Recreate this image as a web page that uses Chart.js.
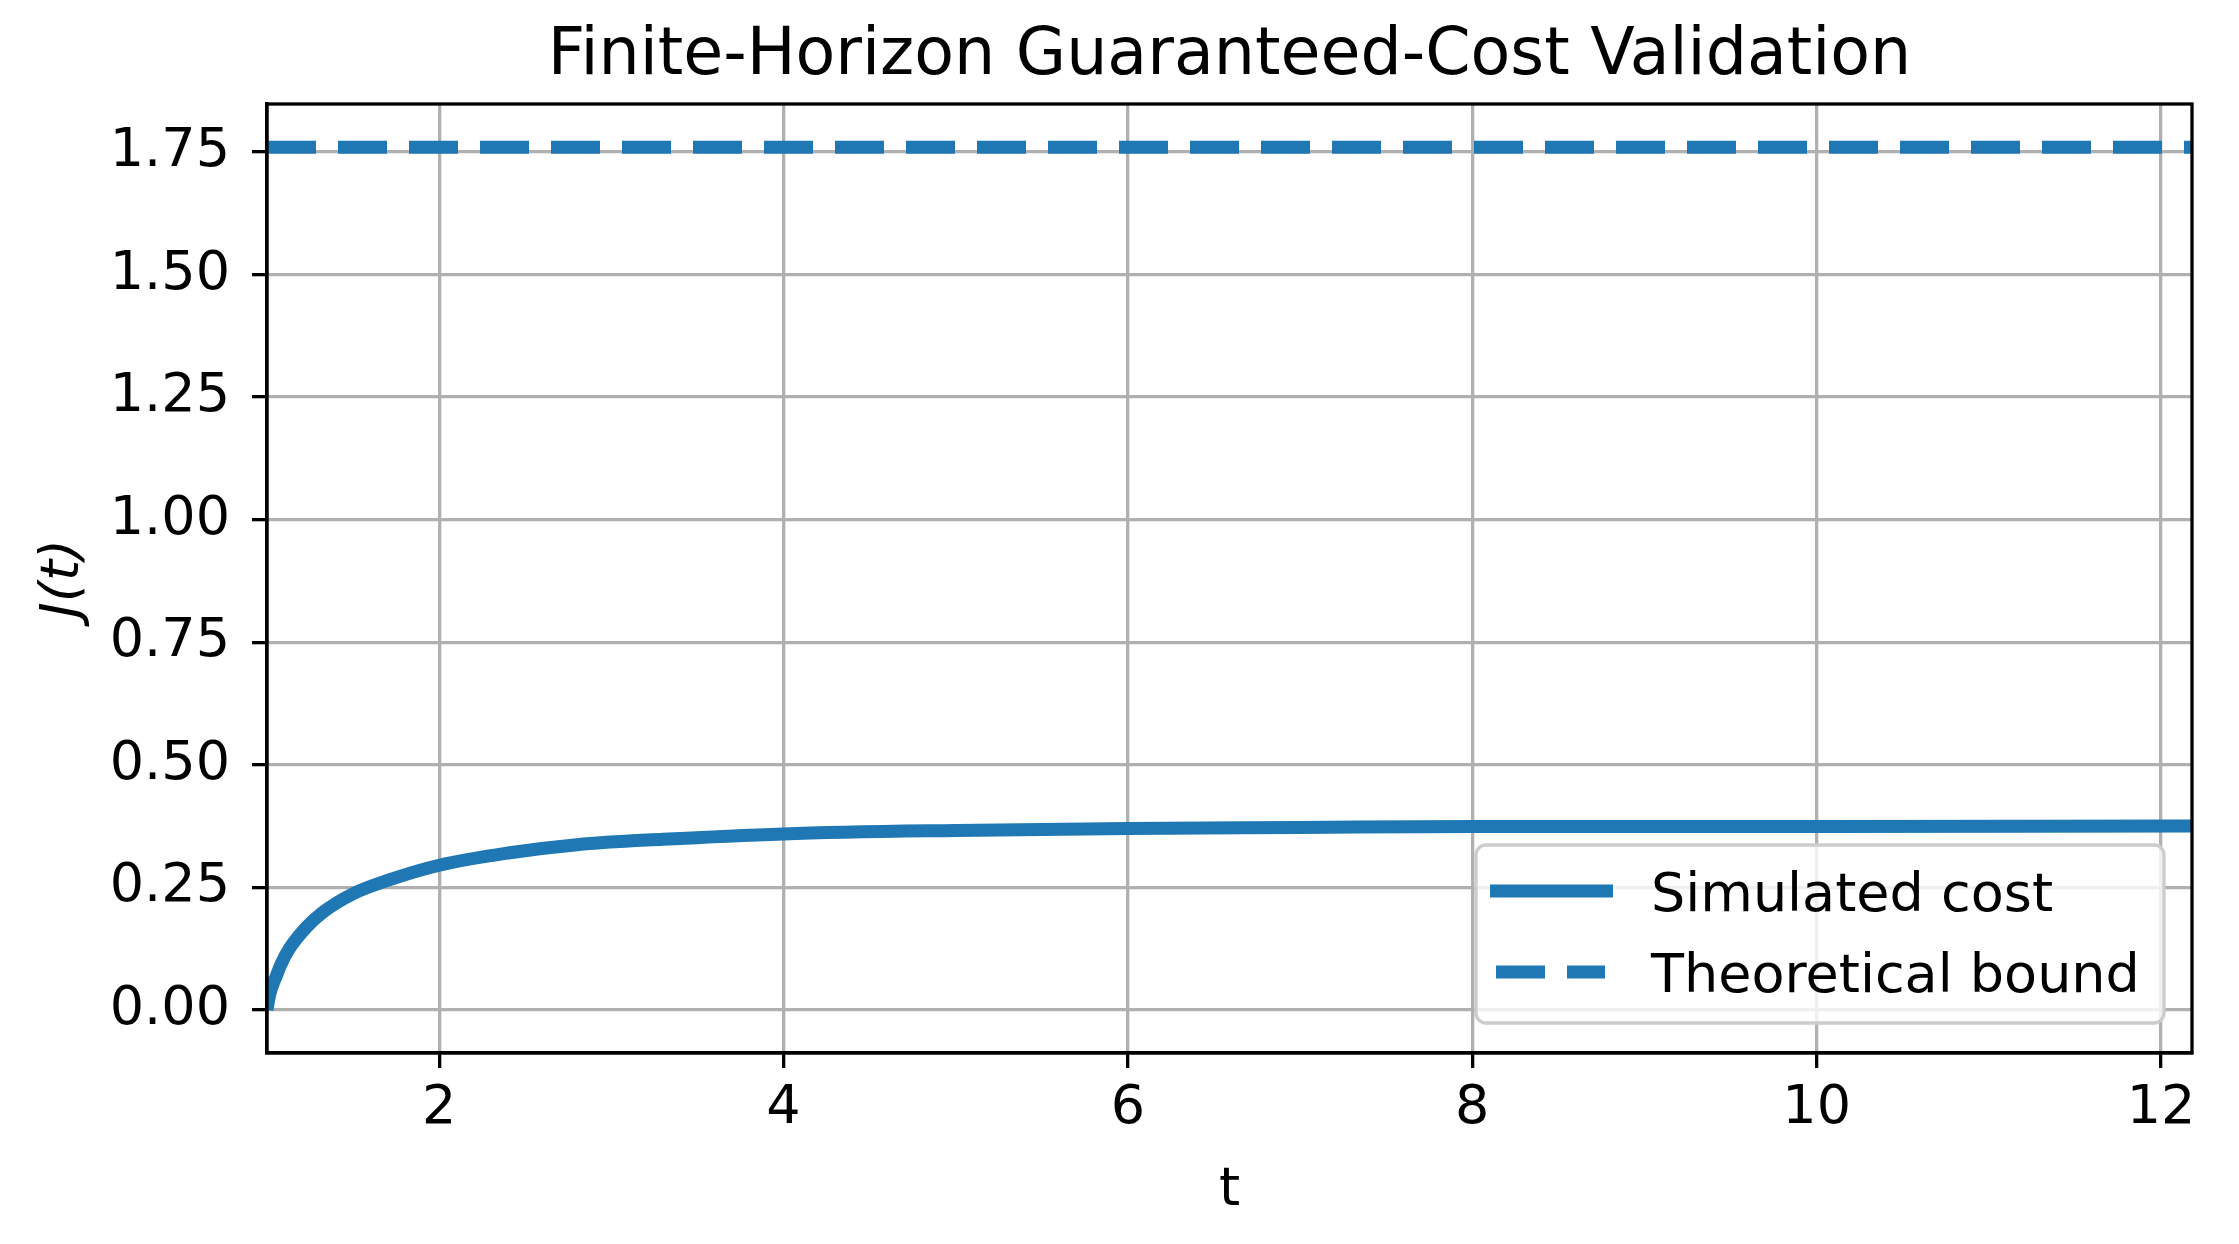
<!DOCTYPE html>
<html>
<head>
<meta charset="utf-8">
<title>Finite-Horizon Guaranteed-Cost Validation</title>
<script src="https://cdn.jsdelivr.net/npm/chart.js@4.4.1/dist/chart.umd.min.js"></script>
<style>
  html, body { margin: 0; padding: 0; background: #fff; }
  canvas { display: block; }
</style>
</head>
<body>
<canvas id="costChart" width="2239" height="1244" style="width:2239px;height:1244px"></canvas>
<script>
// values
const tValues = [1.0, 1.015, 1.03, 1.055, 1.08, 1.13, 1.23, 1.32, 1.5, 1.7, 2.0, 2.4, 2.8, 3.3, 4.0, 5.0, 6.0, 7.0, 8.0, 10.0, 12.18];
const simulatedCost = [0, 0.03, 0.048, 0.07, 0.092, 0.125, 0.169, 0.198, 0.237, 0.264, 0.295, 0.32, 0.337, 0.348, 0.359, 0.366, 0.370, 0.372, 0.374, 0.374, 0.375];
const theoreticalBound = 1.76;
const xTicks = [2, 4, 6, 8, 10, 12];
const yTicks = [0, 0.25, 0.5, 0.75, 1.0, 1.25, 1.5, 1.75];
const tMin = 1.0, tMax = 12.18;
const yMin = -0.088, yMax = 1.848;

const blue = '#1f77b4';
const font = 'DejaVu Sans';
const fs = 54;
const lw = 3.3;

// Legend drawn inside the axes (lower right), plus the full axes frame
const insideLegend = {
  id: 'insideLegend',
  afterDatasetsDraw(chart) {
    const { ctx, chartArea: a } = chart;
    ctx.save();
    ctx.strokeStyle = '#000';
    ctx.lineWidth = lw;
    ctx.strokeRect(a.left, a.top, a.right - a.left, a.bottom - a.top);

    const w = 688, h = 178;
    const x0 = a.right - 28 - w, y0 = a.bottom - 30 - h;
    ctx.beginPath();
    ctx.roundRect(x0, y0, w, h, 10);
    ctx.fillStyle = 'rgba(255,255,255,0.8)';
    ctx.fill();
    ctx.strokeStyle = '#cccccc';
    ctx.lineWidth = lw;
    ctx.stroke();

    chart.data.datasets.forEach((ds, i) => {
      const cy = y0 + 46 + i * 81;
      ctx.beginPath();
      ctx.strokeStyle = ds.borderColor;
      ctx.lineWidth = ds.borderWidth;
      if (ds.borderDash && ds.borderDash.length) {
        ctx.setLineDash(ds.borderDash);
        ctx.moveTo(x0 + 20, cy);
        ctx.lineTo(x0 + 129, cy);
      } else {
        ctx.setLineDash([]);
        ctx.moveTo(x0 + 14, cy);
        ctx.lineTo(x0 + 137, cy);
      }
      ctx.lineCap = 'butt';
      ctx.stroke();
      ctx.setLineDash([]);
      ctx.fillStyle = '#000';
      ctx.font = fs + 'px "' + font + '"';
      ctx.textBaseline = 'alphabetic';
      ctx.textAlign = 'left';
      ctx.fillText(ds.label, x0 + 175, cy + 19.5);
    });
    ctx.restore();
  }
};

const ctx = document.getElementById('costChart').getContext('2d');
new Chart(ctx, {
  type: 'line',
  data: {
    datasets: [{
      label: 'Simulated cost',
      data: tValues.map((t, i) => ({ x: t, y: simulatedCost[i] })),
      borderColor: blue,
      borderWidth: 13,
      pointRadius: 0,
      cubicInterpolationMode: 'monotone',
      clip: 0
    }, {
      label: 'Theoretical bound',
      data: [{ x: tMin, y: theoreticalBound }, { x: tMax, y: theoreticalBound }],
      borderColor: blue,
      borderWidth: 13,
      borderDash: [49, 22],
      borderCapStyle: 'butt',
      pointRadius: 0,
      clip: 0
    }]
  },
  options: {
    responsive: false,
    animation: false,
    devicePixelRatio: 1,
    layout: { padding: { left: 0, right: 47, top: 0, bottom: 0 } },
    plugins: {
      legend: { display: false },
      tooltip: { enabled: false },
      title: {
        display: true,
        text: 'Finite-Horizon Guaranteed-Cost Validation',
        fullSize: false,
        color: '#000',
        font: { family: font, size: 65, weight: 'normal' },
        padding: { top: 18.5, bottom: 7.5 }
      }
    },
    scales: {
      x: {
        type: 'linear',
        min: tMin,
        max: tMax,
        afterBuildTicks: s => { s.ticks = xTicks.map(v => ({ value: v })); },
        afterFit: s => { s.height = 191; },
        ticks: {
          color: '#000',
          font: { family: font, size: fs },
          padding: 8.5,
          maxRotation: 0,
          callback: v => String(v)
        },
        grid: { color: '#b0b0b0', lineWidth: lw, tickColor: '#000', tickWidth: lw, tickLength: 15 },
        border: { display: true, color: '#000', width: lw },
        title: {
          display: true,
          text: 't',
          color: '#000',
          font: { family: font, size: fs },
          padding: { top: 20.5, bottom: 20.5 }
        }
      },
      y: {
        type: 'linear',
        min: yMin,
        max: yMax,
        afterBuildTicks: s => { s.ticks = yTicks.map(v => ({ value: v })); },
        afterFit: s => { s.width = 267; },
        ticks: {
          color: '#000',
          font: { family: font, size: fs },
          padding: 22,
          callback: v => Number(v).toFixed(2)
        },
        grid: { color: '#b0b0b0', lineWidth: lw, tickColor: '#000', tickWidth: lw, tickLength: 15 },
        border: { display: true, color: '#000', width: lw },
        title: {
          display: true,
          text: 'J(t)',
          color: '#000',
          font: { family: font, size: fs, style: 'italic' },
          padding: { top: 31.5, bottom: 31.5 }
        }
      }
    }
  },
  plugins: [insideLegend]
});
</script>
</body>
</html>
